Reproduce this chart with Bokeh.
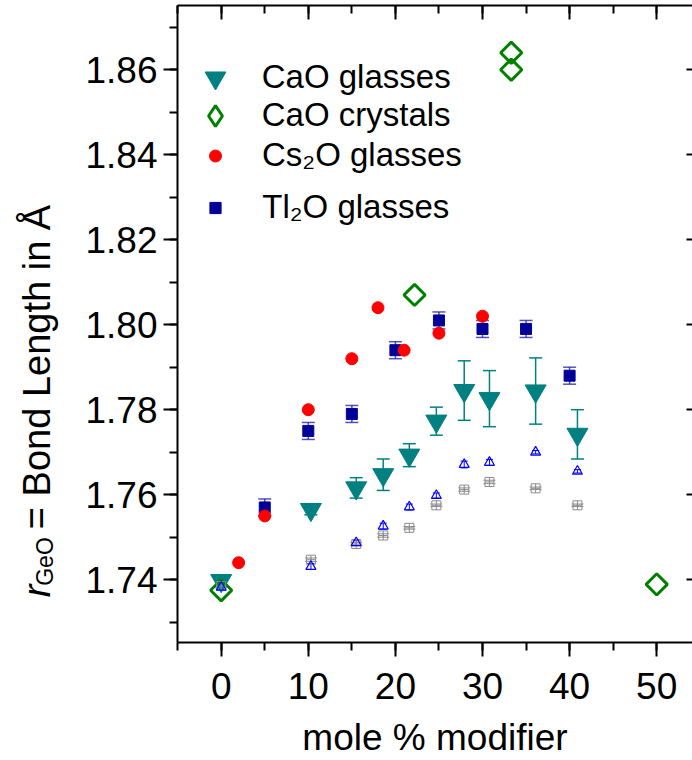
import numpy as np
from bokeh.plotting import figure
from bokeh.layouts import row
from bokeh.core.properties import value
from bokeh.models import (ColumnDataSource, Whisker, TeeHead, LinearAxis, Range1d,
                          SingleIntervalTicker, PrintfTickFormatter, Legend, LegendItem)
from bokeh.embed import file_html
from bokeh.resources import INLINE

# ---------------- data ----------------
# CaO glasses (filled teal inverted triangles, with error bars)
cao_glass_x = [0, 10.3, 15.5, 18.6, 21.6, 24.7, 27.9, 30.8, 36.1, 40.9]
cao_glass_y = [1.7398, 1.7565, 1.7616, 1.7647, 1.7693, 1.7773, 1.7845, 1.7826, 1.7844, 1.7742]
cao_glass_err = [0.0, 0.0012, 0.0024, 0.0037, 0.0027, 0.0033, 0.0070, 0.0066, 0.0078, 0.0058]

# second CaO-glass series (small open blue triangles)
cao_b_y = [1.7382, 1.7431, 1.7487, 1.7526, 1.7571, 1.7598, 1.7671, 1.7676, 1.7700, 1.7655]
cao_b_err = [0.0006, 0.0007, 0.0006, 0.0007, 0.0007, 0.0006, 0.0008, 0.0007, 0.0004, 0.0004]

# third CaO-glass series (small grey squares)
cao_c_y = [1.7385, 1.7447, 1.7484, 1.7504, 1.7522, 1.7575, 1.7612, 1.7630, 1.7615, 1.7575]
cao_c_err = [0.0004, 0.0004, 0.0004, 0.0004, 0.0003, 0.0003, 0.0004, 0.0004, 0.0003, 0.0003]

# CaO crystals (open green diamonds)
cao_cryst_x = [0, 22.2, 33.3, 33.3, 50]
cao_cryst_y = [1.7375, 1.807, 1.864, 1.860, 1.7389]

# Cs2O glasses (red circles)
cs_x = [2, 5, 10, 15, 18, 21, 25, 30]
cs_y = [1.744, 1.755, 1.780, 1.792, 1.804, 1.794, 1.798, 1.802]

# Tl2O glasses (navy squares, with error bars)
tl_x = [5, 10, 15, 20, 25, 30, 35, 40]
tl_y = [1.757, 1.775, 1.779, 1.794, 1.801, 1.799, 1.799, 1.788]
tl_err = [0.002, 0.002, 0.002, 0.002, 0.002, 0.002, 0.002, 0.002]

legend_labels = ["CaO glasses", "CaO crystals", "Cs₂O glasses", "Tl₂O glasses"]
x_title = "mole % modifier"
y_title_parts = ["r", "GeO", "= Bond Length in Å"]
x_ticks_interval = 10
y_ticks_interval = 0.02

FONT = "Liberation Sans"
TICK_FS = 37
TITLE_FS = 37
YTITLE_FS = 38
SUB_FS = 23
LEG_FS = 33

# ---------------- layout constants (page has no margin) ----------------
TOTAL_W, H = 692, 760
LW = 70                      # width of the narrow figure that carries the y title
W = TOTAL_W - LW
BL, BT, BB = 107, 5, 118
FRAME_LEFT_IMG = LW + BL
FRAME_BOTTOM_IMG = H - BB

p = figure(width=W, height=H, x_range=Range1d(-5.017, 54.11), y_range=Range1d(1.72522, 1.87511),
           output_backend="svg", toolbar_location=None, x_axis_type=None, y_axis_type=None,
           min_border_left=BL, min_border_right=0, min_border_top=BT, min_border_bottom=BB)
p.outline_line_color = None


def whisk(x, y, e, color, head, lw, alpha=1.0):
    x = np.asarray(x, float); y = np.asarray(y, float); e = np.asarray(e, float)
    m = e > 0
    src = ColumnDataSource(dict(x=x[m], lo=(y - e)[m], hi=(y + e)[m]))
    w = Whisker(base="x", lower="lo", upper="hi", source=src, dimension="height",
                line_color=color, line_width=lw, line_alpha=alpha,
                upper_head=TeeHead(size=head, line_color=color, line_width=lw, line_alpha=alpha),
                lower_head=TeeHead(size=head, line_color=color, line_width=lw, line_alpha=alpha))
    p.add_layout(w)


whisk(cao_glass_x, cao_glass_y, cao_glass_err, "#008080", 13, 1.5)
whisk(tl_x, tl_y, tl_err, "#1a1aa0", 13, 1.5, 0.75)
whisk(cao_glass_x, cao_b_y, cao_b_err, "#0000ff", 7, 1.0)
whisk(cao_glass_x, cao_c_y, cao_c_err, "#8c8c8c", 12, 1.0)

r_cao = p.scatter(cao_glass_x, cao_glass_y, marker="inverted_triangle", size=21,
                  fill_color="#008080", line_color="#008080")
r_cry = p.scatter(cao_cryst_x, cao_cryst_y, marker="square", angle=np.pi / 4, size=15,
                  fill_color=None, line_color="#008000", line_width=3)
# legend proxy for the crystals: zero-size markers on the same points (nothing visible in
# the plot), but the legend draws its own diamond at a fixed size
r_cry_leg = p.scatter(cao_cryst_x, cao_cryst_y, marker="diamond", size=0,
                      fill_color=None, line_color="#008000", line_width=3)
r_c = p.scatter(cao_glass_x, cao_c_y, marker="square_cross", size=9,
                fill_color=None, line_color="#8c8c8c", line_width=1)
r_b = p.scatter(cao_glass_x, cao_b_y, marker="triangle", size=10,
                fill_color=None, line_color="#0000ff", line_width=1.2)
r_tl = p.scatter(tl_x, tl_y, marker="square", size=11, fill_color="#000099", line_color="#000099")
r_cs = p.scatter(cs_x, cs_y, marker="circle", size=12, fill_color="#ff0000", line_color="#ff0000")

# ---------------- axes ----------------
def style_axis(ax):
    ax.axis_line_width = 2
    ax.major_tick_line_width = 2
    ax.minor_tick_line_width = 2
    ax.major_label_text_font = FONT
    ax.major_label_text_font_size = f"{TICK_FS}px"
    ax.major_label_text_color = "black"
    ax.axis_label_text_font = FONT
    ax.axis_label_text_color = "black"
    ax.axis_label_text_font_style = "normal"


xb = LinearAxis(ticker=SingleIntervalTicker(interval=x_ticks_interval, num_minor_ticks=2),
                axis_label=x_title)
style_axis(xb)
xb.major_tick_out = 14; xb.major_tick_in = 0
xb.minor_tick_out = 8; xb.minor_tick_in = 0
xb.major_label_standoff = 16
xb.axis_label_text_font_size = f"{TITLE_FS}px"
xb.axis_label_standoff = 15
p.add_layout(xb, "below")

yl = LinearAxis(ticker=SingleIntervalTicker(interval=y_ticks_interval, num_minor_ticks=2),
                formatter=PrintfTickFormatter(format="%.2f"))
style_axis(yl)
yl.major_tick_out = 14; yl.major_tick_in = 0
yl.minor_tick_out = 8; yl.minor_tick_in = 0
yl.major_label_standoff = 6
p.add_layout(yl, "left")

xt = LinearAxis(ticker=SingleIntervalTicker(interval=x_ticks_interval, num_minor_ticks=2))
style_axis(xt)
xt.major_tick_out = 0; xt.major_tick_in = 14
xt.minor_tick_out = 0; xt.minor_tick_in = 8
xt.major_label_text_color = None
xt.major_label_text_font_size = "1px"
xt.major_label_standoff = 0
p.add_layout(xt, "above")

yr = LinearAxis(ticker=SingleIntervalTicker(interval=y_ticks_interval, num_minor_ticks=2))
style_axis(yr)
yr.axis_line_color = None
yr.major_tick_out = 0; yr.major_tick_in = 6
yr.minor_tick_out = 0; yr.minor_tick_in = 0
yr.major_label_text_color = None
yr.major_label_text_font_size = "1px"
yr.major_label_standoff = 0
p.add_layout(yr, "right")

# ---------------- legend (one per entry so glyph sizes differ) ----------------
entries = [(r_cao, legend_labels[0], 21, 77),
           (r_cry_leg, legend_labels[1], 21, 115),
           (r_cs, legend_labels[2], 12, 155),
           (r_tl, legend_labels[3], 11, 207)]
glyph_cx_img, text_x_img, GH = 215, 262, 53
for rend, lab, sz, cy in entries:
    gw = sz / 0.4
    gh = max(GH, gw)
    lg = Legend(items=[LegendItem(label=lab, renderers=[rend])],
                location=(glyph_cx_img - FRAME_LEFT_IMG - gw / 2, FRAME_BOTTOM_IMG - (cy + gh / 2)),
                glyph_width=int(round(gw)), glyph_height=int(round(gh)),
                label_standoff=int(round(text_x_img - glyph_cx_img - gw / 2)),
                label_text_font=FONT, label_text_font_size=f"{LEG_FS}px",
                label_text_color="black",
                background_fill_alpha=0, border_line_color=None,
                padding=0, margin=0, spacing=0)
    p.add_layout(lg)

# ---------------- y title in a narrow side figure ----------------
q = figure(width=LW, height=H, x_range=Range1d(0, LW), y_range=Range1d(0, H),
           output_backend="svg", toolbar_location=None, x_axis_type=None, y_axis_type=None,
           min_border=0)
q.outline_line_color = None
q.grid.visible = False

base_x = 36          # baseline of the rotated title
start_y = 706        # where the rotated title starts (from the top)
w_r = 0.36 * YTITLE_FS
w_sub = 2.112 * SUB_FS + 0.5 * YTITLE_FS
q.text(x=[base_x], y=[H - start_y], text=[y_title_parts[0]], angle=np.pi / 2,
       text_font=value(FONT), text_font_size=value(f"{YTITLE_FS}px"), text_font_style="italic",
       text_align="left", text_baseline="alphabetic", text_color="black")
q.text(x=[base_x + 8], y=[H - start_y + w_r], text=[y_title_parts[1]], angle=np.pi / 2,
       text_font=value(FONT), text_font_size=value(f"{SUB_FS}px"),
       text_align="left", text_baseline="alphabetic", text_color="black")
q.text(x=[base_x], y=[H - start_y + w_r + w_sub], text=[y_title_parts[2]], angle=np.pi / 2,
       text_font=value(FONT), text_font_size=value(f"{YTITLE_FS}px"),
       text_align="left", text_baseline="alphabetic", text_color="black")

layout = row(q, p, spacing=0)
open("out.html", "w").write(file_html(layout, INLINE))
